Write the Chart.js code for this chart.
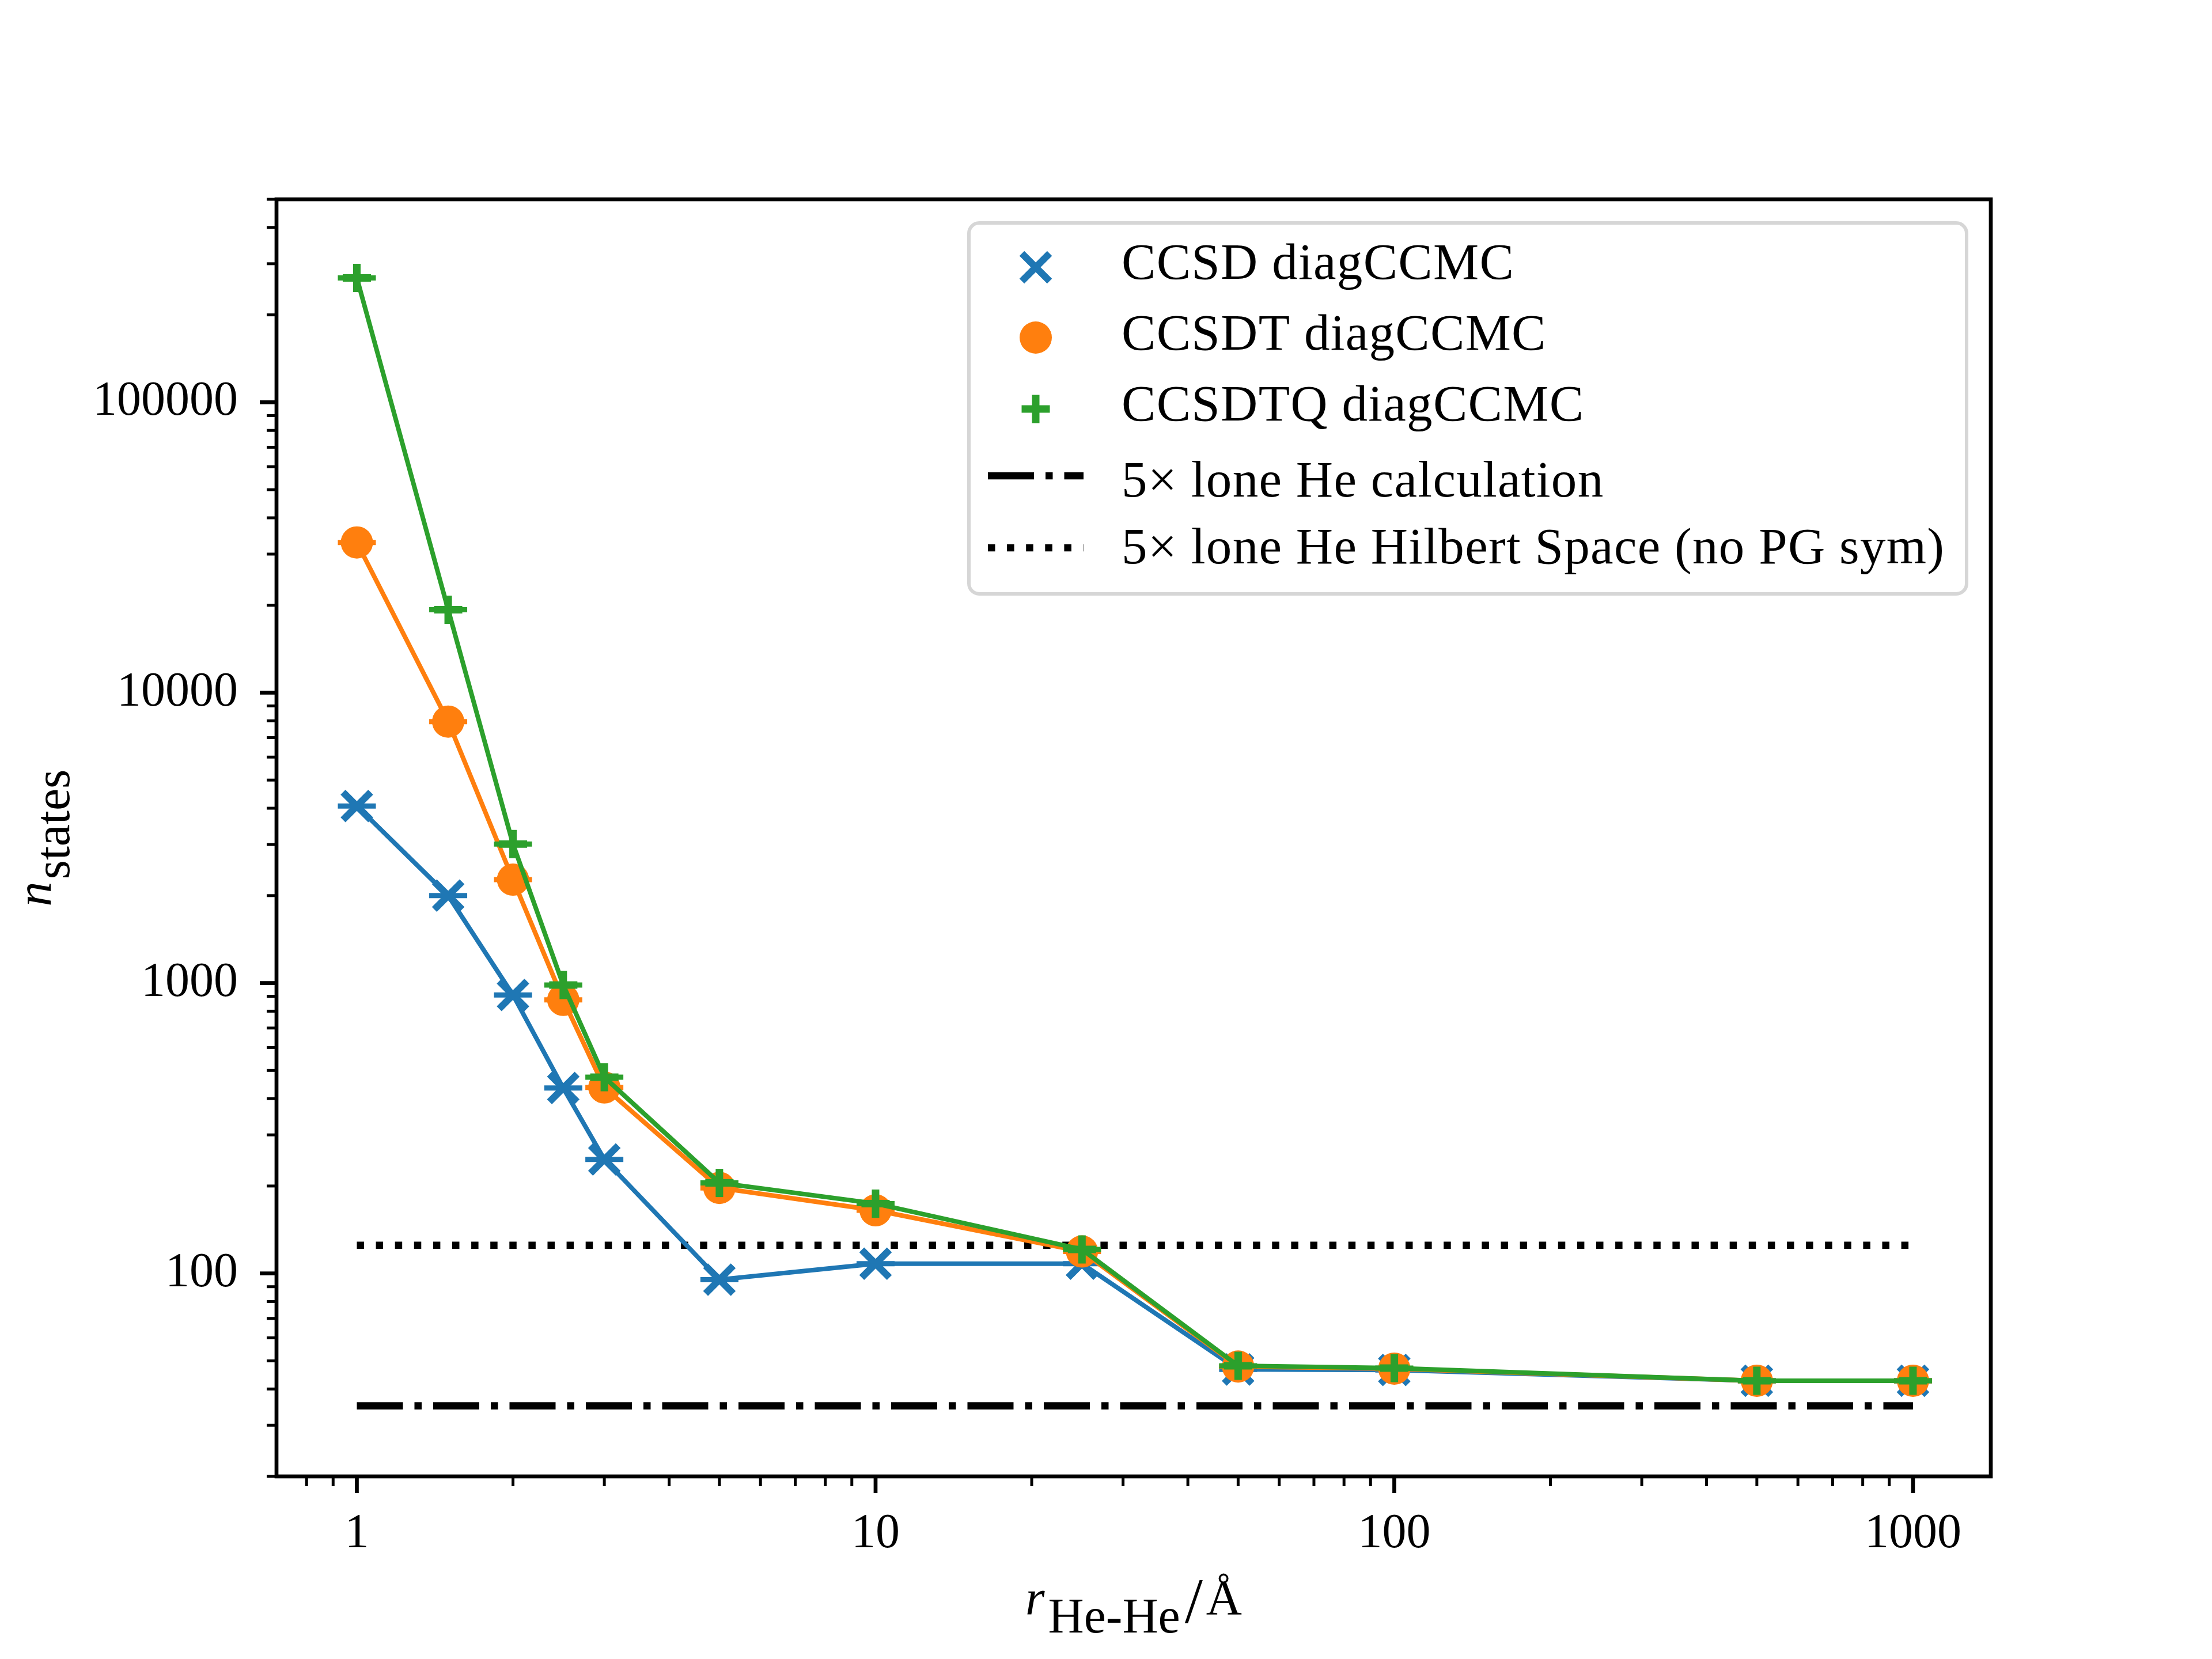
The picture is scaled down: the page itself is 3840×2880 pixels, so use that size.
<!DOCTYPE html>
<html>
<head>
<meta charset="utf-8">
<title>n_states against r_He-He</title>
<script src="https://cdn.jsdelivr.net/npm/chart.js@4.4.1/dist/chart.umd.min.js"></script>
<style>
  html, body { margin: 0; padding: 0; background: #fff; }
  #wrap { width: 3840px; height: 2880px; }
</style>
</head>
<body>
<div id="wrap"><canvas id="statesChart"></canvas></div>
<script>
// He-He separations (Angstrom)
const rValues = [1, 1.5, 2, 2.5, 3, 5, 10, 25, 50, 100, 500, 1000];

// number of states found by each diagCCMC truncation level
const ccsdStates   = [4070, 2000, 910, 435, 247, 95.2, 108, 108, 46.7, 46.5, 42.7, 42.7];
const ccsdtStates  = [32900, 7950, 2270, 875, 437, 197, 165, 119, 47.8, 47.0, 42.7, 42.7];
const ccsdtqStates = [268000, 19300, 3010, 984, 474, 205, 174, 121, 48.1, 47.2, 42.7, 42.7];

// 5x lone He reference values, drawn from r = 1 to r = 1000
const refRange = [1, 1000];
const loneHeCalc = 35;
const loneHeHilbert = 125;

// axis ticks
const xMajorTicks = [1, 10, 100, 1000];
const xTickLabels = ['1', '10', '100', '1000'];
const xMinorTicks = [0.8, 0.9, 2, 3, 4, 5, 6, 7, 8, 9, 20, 30, 40, 50, 60, 70, 80, 90,
                     200, 300, 400, 500, 600, 700, 800, 900];
const yMajorTicks = [100, 1000, 10000, 100000];
const yTickLabels = ['100', '1000', '10000', '100000'];
const yMinorTicks = [20, 30, 40, 50, 60, 70, 80, 90, 200, 300, 400, 500, 600, 700, 800, 900,
                     2000, 3000, 4000, 5000, 6000, 7000, 8000, 9000,
                     20000, 30000, 40000, 50000, 60000, 70000, 80000, 90000,
                     200000, 300000, 400000, 500000];

const legendLabels = ['CCSD diagCCMC', 'CCSDT diagCCMC', 'CCSDTQ diagCCMC',
                      '5\u00d7 lone He calculation', '5\u00d7 lone He Hilbert Space (no PG sym)'];

const BLUE = '#1f77b4';
const ORANGE = '#ff7f0e';
const GREEN = '#2ca02c';
const FONT = '"Liberation Serif", "DejaVu Serif", serif';

const toPoints = ys => rValues.map((r, i) => ({ x: r, y: ys[i] }));
const flatLine = v => refRange.map(r => ({ x: r, y: v }));

function seriesDataset(label, ys, color, style, radius, markerWidth, order) {
    return {
        label: label,
        data: toPoints(ys),
        borderColor: color,
        backgroundColor: color,
        borderWidth: 8,
        tension: 0,
        pointStyle: style,
        pointRadius: radius,
        pointBorderWidth: markerWidth,
        pointBorderColor: color,
        pointBackgroundColor: color,
        order: order
    };
}

// the little error-bar caps sitting across every marker
function capDataset(ys, color, order) {
    return {
        label: 'caps',
        data: toPoints(ys),
        showLine: false,
        pointStyle: 'line',
        pointRadius: 33,
        pointBorderWidth: 9,
        pointBorderColor: color,
        order: order
    };
}

function refDataset(label, value, dash, order) {
    return {
        label: label,
        data: flatLine(value),
        borderColor: '#000',
        borderWidth: 12.5,
        borderDash: dash,
        borderCapStyle: 'butt',
        pointRadius: 0,
        order: order
    };
}

function logTicks(majors, minors) {
    return majors.concat(minors).sort((a, b) => a - b).map(v => ({ value: v }));
}

function drawMarker(ctx, style, color, x, y) {
    ctx.save();
    ctx.strokeStyle = color;
    ctx.fillStyle = color;
    ctx.setLineDash([]);
    ctx.beginPath();
    if (style === 'crossRot') {
        const d = 34 * Math.SQRT1_2;
        ctx.lineWidth = 12;
        ctx.moveTo(x - d, y - d); ctx.lineTo(x + d, y + d);
        ctx.moveTo(x - d, y + d); ctx.lineTo(x + d, y - d);
        ctx.stroke();
    } else if (style === 'circle') {
        ctx.arc(x, y, 28, 0, Math.PI * 2);
        ctx.fill();
    } else {
        ctx.lineWidth = 13;
        ctx.moveTo(x - 24.5, y); ctx.lineTo(x + 24.5, y);
        ctx.moveTo(x, y - 24.5); ctx.lineTo(x, y + 24.5);
        ctx.stroke();
    }
    ctx.restore();
}

function drawLegend(ctx, a) {
    const box = { left: 1682, top: 387, right: a.right - 42, bottom: 1031 };
    ctx.save();
    ctx.beginPath();
    ctx.roundRect(box.left, box.top, box.right - box.left, box.bottom - box.top, 18);
    ctx.fillStyle = 'rgba(255,255,255,0.8)';
    ctx.fill();
    ctx.lineWidth = 6;
    ctx.strokeStyle = 'rgba(204,204,204,0.8)';
    ctx.stroke();

    const x0 = box.left + 33;
    const x1 = x0 + 166;
    const xm = (x0 + x1) / 2;
    const handleY = [77, 199, 323, 439, 564];
    const textY = [97, 220, 343, 475, 591];
    const markers = [['crossRot', BLUE], ['circle', ORANGE], ['cross', GREEN]];
    markers.forEach((m, i) => drawMarker(ctx, m[0], m[1], xm, box.top + handleY[i]));

    ctx.strokeStyle = '#000';
    ctx.lineWidth = 12.5;
    ctx.lineCap = 'butt';
    ctx.setLineDash([80, 20, 12.5, 20]);
    ctx.beginPath();
    ctx.moveTo(x0, box.top + handleY[3]); ctx.lineTo(x1, box.top + handleY[3]);
    ctx.stroke();
    ctx.setLineDash([12.5, 20.6]);
    ctx.beginPath();
    ctx.moveTo(x0, box.top + handleY[4]); ctx.lineTo(x1, box.top + handleY[4]);
    ctx.stroke();
    ctx.setLineDash([]);

    ctx.fillStyle = '#000';
    ctx.font = '89px ' + FONT;
    ctx.letterSpacing = '1.3px';
    ctx.textAlign = 'left';
    ctx.textBaseline = 'alphabetic';
    legendLabels.forEach((t, i) => ctx.fillText(t, x1 + 66, box.top + textY[i]));
    ctx.restore();
}

function drawAxisTitles(ctx, a) {
    ctx.save();
    ctx.fillStyle = '#000';
    ctx.textAlign = 'left';
    ctx.textBaseline = 'alphabetic';
    const italic = 'italic 86px ' + FONT;
    const roman = '86px ' + FONT;

    // x title: r_{He-He}/Å
    const parts = [
        { t: 'r', f: italic, dy: 0, gap: 6 },
        { t: 'He-He', f: roman, dy: 31, gap: 8 },
        { t: '/', f: '112px ' + FONT, dy: 14, gap: 6 },
        { t: '\u00c5', f: roman, dy: 0, gap: 0 }
    ];
    let total = 0;
    parts.forEach(p => { ctx.font = p.f; p.w = ctx.measureText(p.t).width; total += p.w + p.gap; });
    let x = (a.left + a.right) / 2 - total / 2;
    const base = 2803;
    parts.forEach(p => { ctx.font = p.f; ctx.fillText(p.t, x, base + p.dy); x += p.w + p.gap; });

    // y title: n_{states}, rotated
    ctx.translate(0, (a.top + a.bottom) / 2);
    ctx.rotate(-Math.PI / 2);
    ctx.font = italic;
    const wn = ctx.measureText('n').width;
    ctx.font = roman;
    const ws = ctx.measureText('states').width;
    const start = -(wn + 4 + ws) / 2;
    ctx.font = italic;
    ctx.fillText('n', start, 88);
    ctx.font = roman;
    ctx.fillText('states', start + wn + 4, 120);
    ctx.restore();
}

const framePlugin = {
    id: 'frame',
    afterDatasetsDraw(chart) {
        const ctx = chart.ctx;
        const a = chart.chartArea;
        const xs = chart.scales.x;
        const ys = chart.scales.y;
        ctx.save();
        ctx.strokeStyle = '#000';
        ctx.lineCap = 'butt';
        const xTick = (v, len, w) => {
            const p = xs.getPixelForValue(v);
            ctx.lineWidth = w;
            ctx.beginPath(); ctx.moveTo(p, a.bottom); ctx.lineTo(p, a.bottom + len); ctx.stroke();
        };
        const yTick = (v, len, w) => {
            const p = ys.getPixelForValue(v);
            ctx.lineWidth = w;
            ctx.beginPath(); ctx.moveTo(a.left, p); ctx.lineTo(a.left - len, p); ctx.stroke();
        };
        xMinorTicks.forEach(v => xTick(v, 17, 5));
        xMajorTicks.forEach(v => xTick(v, 29, 6.7));
        yMinorTicks.forEach(v => yTick(v, 17, 5));
        yMajorTicks.forEach(v => yTick(v, 29, 6.7));

        ctx.lineWidth = 6.7;
        ctx.lineJoin = 'miter';
        ctx.strokeRect(a.left, a.top, a.right - a.left, a.bottom - a.top);
        ctx.restore();

        drawLegend(ctx, a);
        drawAxisTitles(ctx, a);
    }
};

const hiddenGrid = {
    display: true,
    drawOnChartArea: false,
    drawTicks: true,
    tickLength: 29,
    color: 'rgba(0,0,0,0)',
    tickColor: 'rgba(0,0,0,0)'
};

new Chart(document.getElementById('statesChart'), {
    type: 'line',
    data: {
        datasets: [
            seriesDataset(legendLabels[2], ccsdtqStates, GREEN, 'cross', 24.5, 13, 1),
            capDataset(ccsdtqStates, GREEN, 2),
            seriesDataset(legendLabels[1], ccsdtStates, ORANGE, 'circle', 28, 0, 3),
            capDataset(ccsdtStates, ORANGE, 4),
            seriesDataset(legendLabels[0], ccsdStates, BLUE, 'crossRot', 34, 12, 5),
            capDataset(ccsdStates, BLUE, 6),
            refDataset(legendLabels[4], loneHeHilbert, [12.5, 20.6], 7),
            refDataset(legendLabels[3], loneHeCalc, [80, 20, 12.5, 20], 8)
        ]
    },
    options: {
        responsive: true,
        maintainAspectRatio: false,
        devicePixelRatio: 1,
        animation: false,
        events: [],
        layout: { padding: { left: 0, right: 384, top: 346, bottom: 0 } },
        scales: {
            x: {
                type: 'logarithmic',
                min: Math.pow(10, -0.15),
                max: Math.pow(10, 3.15),
                afterBuildTicks: s => { s.ticks = logTicks(xMajorTicks, xMinorTicks); },
                afterFit: s => { s.height = 317; },
                grid: hiddenGrid,
                border: { display: false },
                ticks: {
                    autoSkip: false,
                    maxRotation: 0,
                    minRotation: 0,
                    padding: 22,
                    color: '#000',
                    font: { family: FONT, size: 84 },
                    callback: v => {
                        const i = xMajorTicks.indexOf(v);
                        return i >= 0 ? xTickLabels[i] : '';
                    }
                }
            },
            y: {
                type: 'logarithmic',
                min: 20,
                max: 500000,
                afterBuildTicks: s => { s.ticks = logTicks(yMajorTicks, yMinorTicks); },
                afterFit: s => { s.width = 480; },
                grid: hiddenGrid,
                border: { display: false },
                ticks: {
                    autoSkip: false,
                    padding: 38,
                    color: '#000',
                    font: { family: FONT, size: 84 },
                    callback: v => {
                        const i = yMajorTicks.indexOf(v);
                        return i >= 0 ? yTickLabels[i] : '';
                    }
                }
            }
        },
        plugins: {
            legend: { display: false },
            tooltip: { enabled: false },
            title: { display: false }
        }
    },
    plugins: [framePlugin]
});
</script>
</body>
</html>
